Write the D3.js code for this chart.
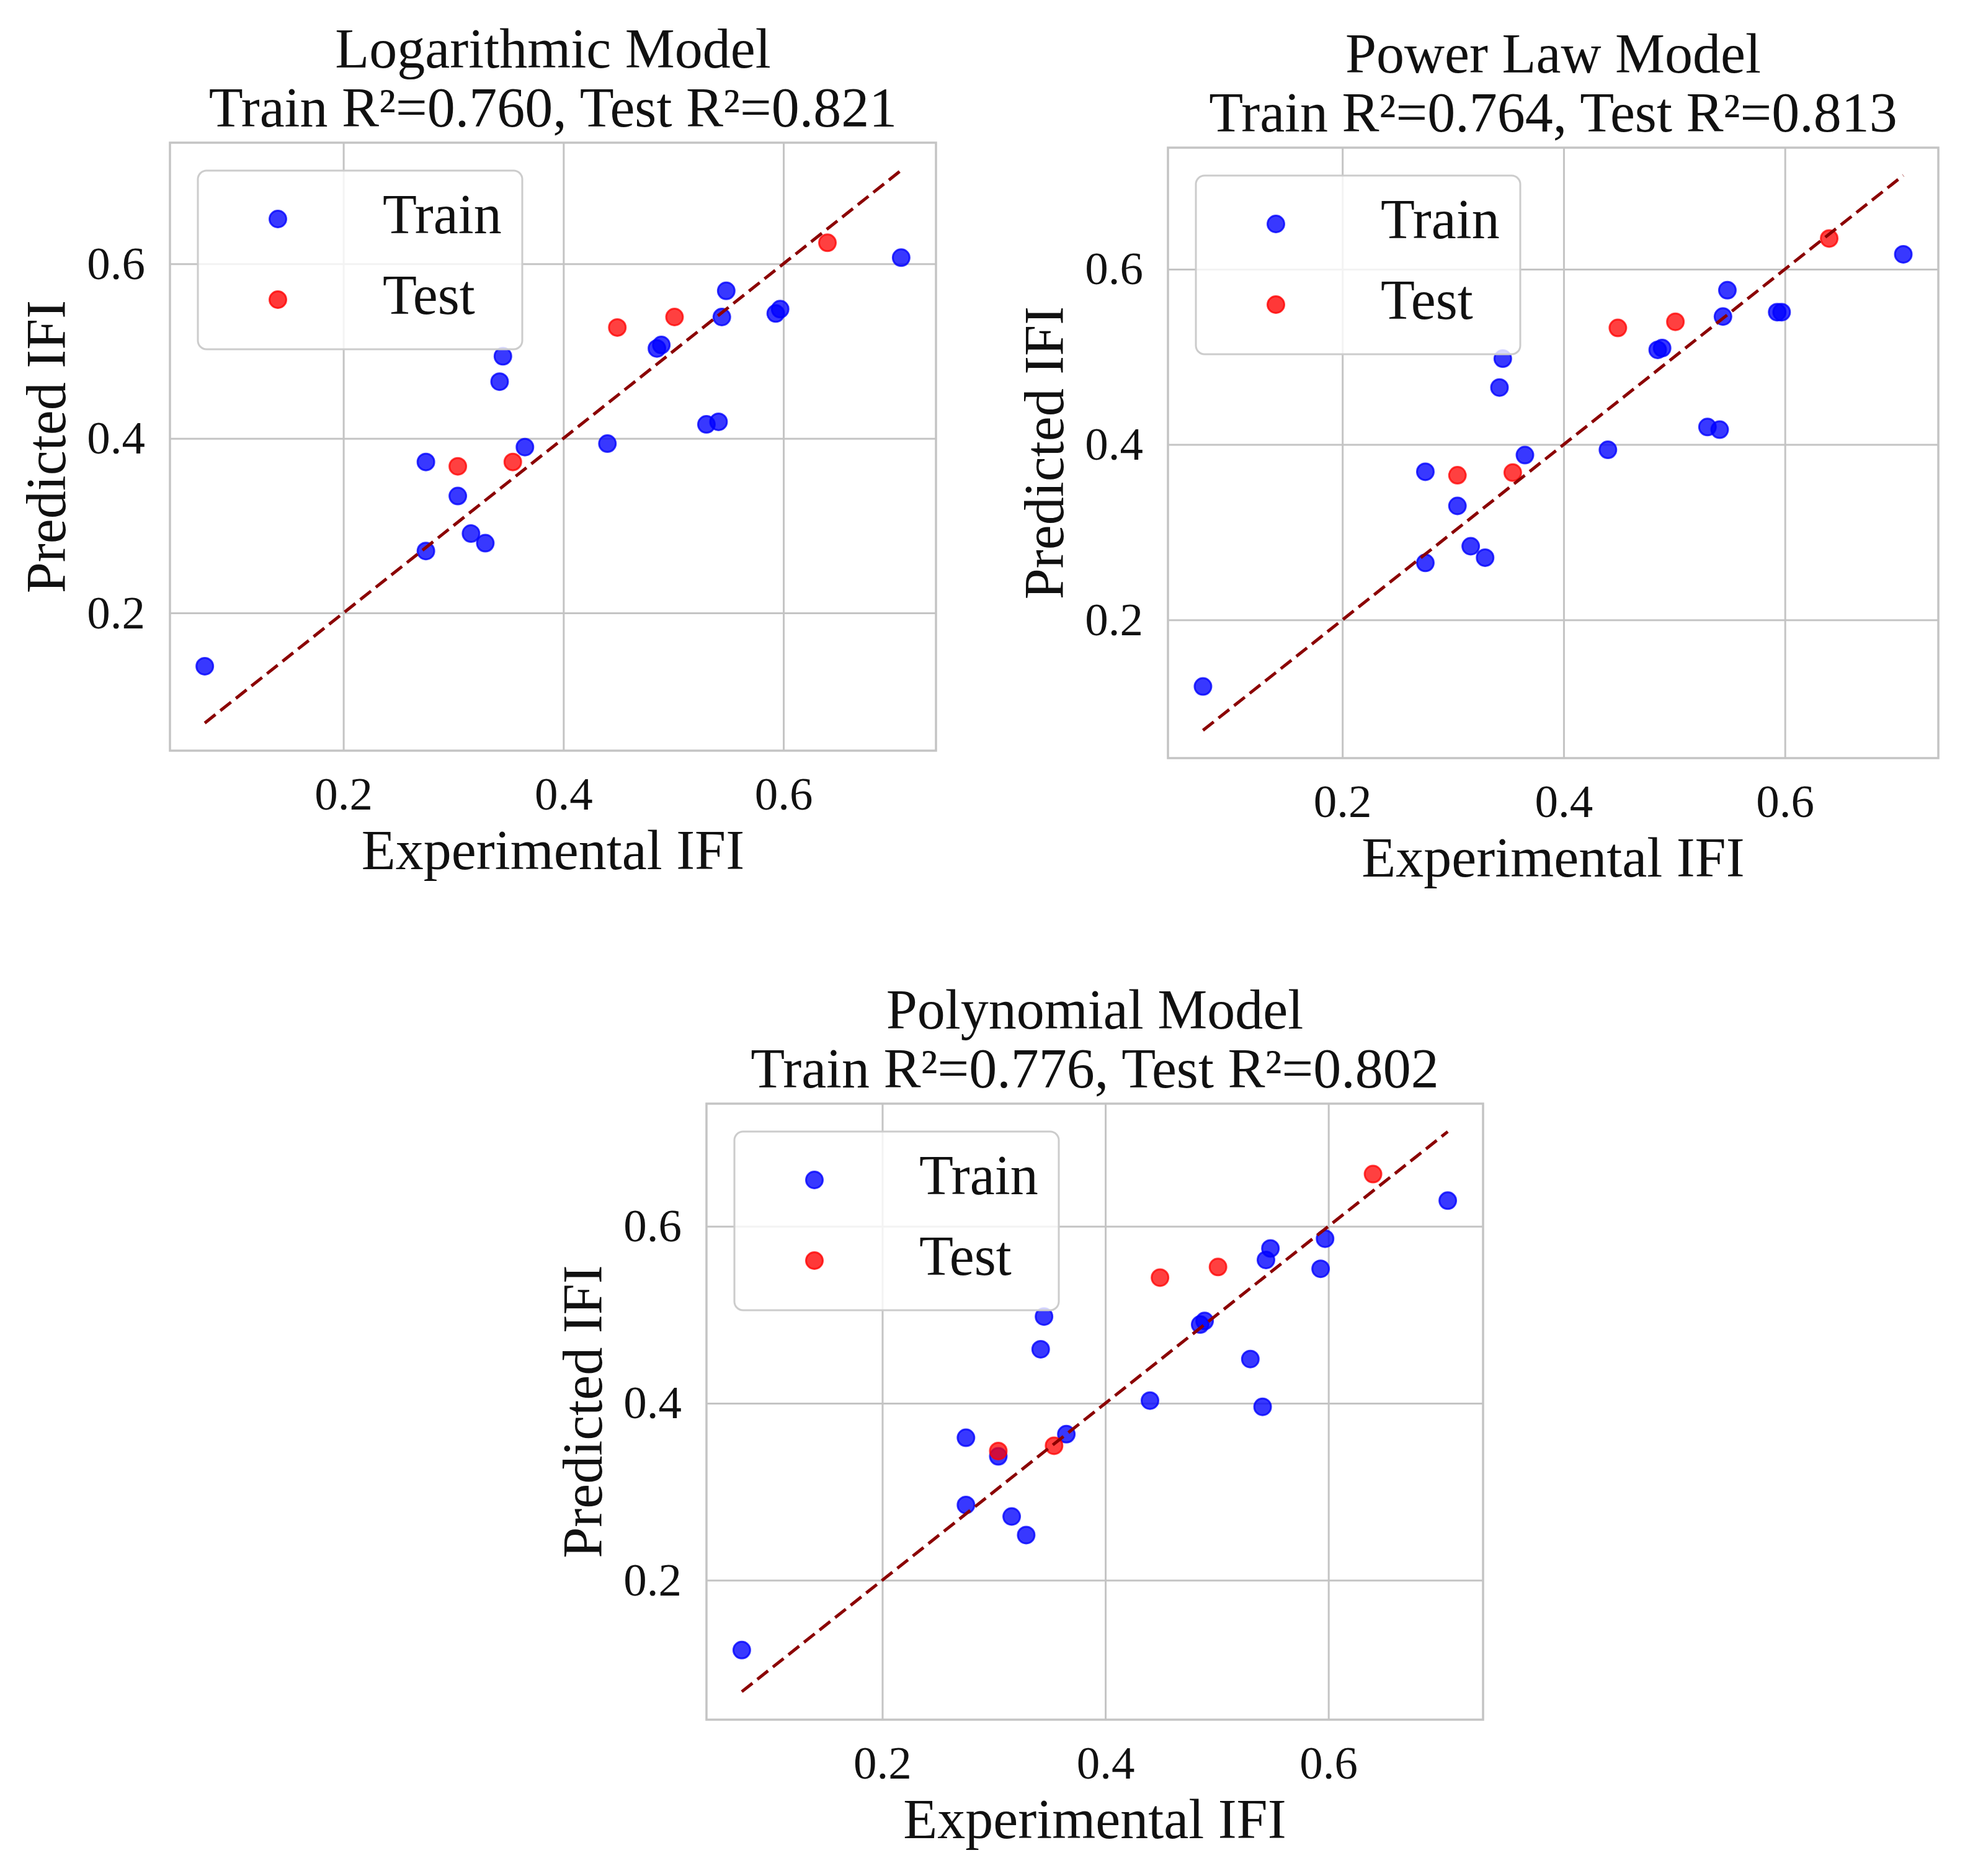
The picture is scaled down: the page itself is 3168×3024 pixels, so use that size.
<!DOCTYPE html>
<html>
<head>
<meta charset="utf-8">
<script src="https://cdn.jsdelivr.net/npm/d3@7"></script>
<style>
  body { margin: 0; background: #fff; }
  text { font-family: "Liberation Serif", "Times New Roman", serif; fill: #111; }
</style>
</head>
<body>
<div id="chart"></div>
<script>
// experimental values (same for every model)
var expTrain = [0.074, 0.275, 0.275, 0.304, 0.316, 0.329, 0.342, 0.345, 0.365, 0.440,
                0.485, 0.489, 0.530, 0.541, 0.544, 0.548, 0.593, 0.597, 0.707];
var expTest = [0.304, 0.354, 0.449, 0.501, 0.640];

// predicted values per model
var logTrain = [0.139, 0.373, 0.271, 0.334, 0.291, 0.280, 0.465, 0.494, 0.390, 0.394,
                0.503, 0.507, 0.416, 0.419, 0.539, 0.569, 0.543, 0.548, 0.607];
var logTest = [0.368, 0.373, 0.527, 0.539, 0.624];

var powTrain = [0.124, 0.369, 0.265, 0.330, 0.284, 0.271, 0.465, 0.498, 0.388, 0.394,
                0.508, 0.510, 0.420, 0.417, 0.546, 0.576, 0.551, 0.551, 0.617];
var powTest = [0.365, 0.368, 0.533, 0.540, 0.635];

var polyTrain = [0.121, 0.361, 0.285, 0.340, 0.272, 0.251, 0.461, 0.498, 0.365, 0.403,
                 0.489, 0.493, 0.450, 0.396, 0.562, 0.575, 0.552, 0.586, 0.629];
var polyTest = [0.346, 0.352, 0.542, 0.554, 0.659];

var modelNames = ["Logarithmic Model", "Power Law Model", "Polynomial Model"];
var trainR2 = ["0.760", "0.764", "0.776"];
var testR2 = ["0.821", "0.813", "0.802"];
var tickValues = [0.2, 0.4, 0.6];
var legendLabels = ["Train", "Test"];

var svg = d3.select("#chart")
  .append("svg")
  .attr("width", 3168)
  .attr("height", 3024);

var gridColor = "#c4c4c4";

function drawPanel(box, name, r2a, r2b, predTrain, predTest) {
  var w = box.w, h = box.h;
  var g = svg.append("g").attr("transform", "translate(" + box.x + "," + box.y + ")");

  // line goes from min to max of experimental values, limits padded 5%
  var ext = d3.extent(expTrain.concat(expTest));
  var pad = (ext[1] - ext[0]) * 0.05;
  var x = d3.scaleLinear().domain([ext[0] - pad, ext[1] + pad]).range([0, w]);
  var y = d3.scaleLinear().domain([ext[0] - pad, ext[1] + pad]).range([h, 0]);

  // x grid + labels
  var xa = g.append("g")
    .attr("transform", "translate(0," + h + ")")
    .call(d3.axisBottom(x).tickValues(tickValues).tickSize(-h).tickPadding(42).tickFormat(d3.format(".1f")));
  // y grid + labels
  var ya = g.append("g")
    .call(d3.axisLeft(y).tickValues(tickValues).tickSize(-w).tickPadding(40).tickFormat(d3.format(".1f")));
  [xa, ya].forEach(function (a) {
    a.select(".domain").remove();
    a.selectAll(".tick line").attr("stroke", gridColor).attr("stroke-width", 3);
    a.selectAll(".tick text").style("font-size", "75px").style("font-family", "Liberation Serif").attr("fill", "#111");
  });

  // points
  g.append("g").selectAll("circle")
    .data(expTrain.map(function (d, i) { return [d, predTrain[i]]; }))
    .join("circle")
    .attr("cx", function (d) { return x(d[0]); })
    .attr("cy", function (d) { return y(d[1]); })
    .attr("r", 13.5)
    .attr("fill", "blue").attr("fill-opacity", 0.78)
    .attr("stroke", "blue").attr("stroke-opacity", 0.78).attr("stroke-width", 3);

  g.append("g").selectAll("circle")
    .data(expTest.map(function (d, i) { return [d, predTest[i]]; }))
    .join("circle")
    .attr("cx", function (d) { return x(d[0]); })
    .attr("cy", function (d) { return y(d[1]); })
    .attr("r", 13.5)
    .attr("fill", "red").attr("fill-opacity", 0.75)
    .attr("stroke", "red").attr("stroke-opacity", 0.75).attr("stroke-width", 3);

  // 1:1 line
  g.append("line")
    .attr("x1", x(ext[0])).attr("y1", y(ext[0]))
    .attr("x2", x(ext[1])).attr("y2", y(ext[1]))
    .attr("stroke", "#8b0000")
    .attr("stroke-width", 5)
    .attr("stroke-dasharray", "22,10");

  // legend
  var lg = g.append("g").attr("transform", "translate(45,45)");
  lg.append("rect")
    .attr("width", 523).attr("height", 288)
    .attr("rx", 14)
    .attr("fill", "white").attr("fill-opacity", 0.8)
    .attr("stroke", "#cccccc").attr("stroke-width", 3);
  var colors = ["blue", "red"];
  legendLabels.forEach(function (lab, i) {
    lg.append("circle")
      .attr("cx", 129).attr("cy", 78 + i * 130)
      .attr("r", 13.5)
      .attr("fill", colors[i]).attr("fill-opacity", 0.78)
      .attr("stroke", colors[i]).attr("stroke-opacity", 0.78).attr("stroke-width", 3);
    lg.append("text")
      .attr("x", 298).attr("y", 101 + i * 130)
      .style("font-size", "90px")
      .text(lab);
  });

  // frame
  g.append("rect")
    .attr("width", w).attr("height", h)
    .attr("fill", "none")
    .attr("stroke", gridColor).attr("stroke-width", 3.5);

  // title
  g.append("text")
    .attr("x", w / 2).attr("y", -121)
    .attr("text-anchor", "middle")
    .style("font-size", "90px")
    .text(name);
  g.append("text")
    .attr("x", w / 2).attr("y", -26)
    .attr("text-anchor", "middle")
    .style("font-size", "90px")
    .text("Train R\u00b2=" + r2a + ", Test R\u00b2=" + r2b);

  // axis labels
  g.append("text")
    .attr("x", w / 2).attr("y", h + 191)
    .attr("text-anchor", "middle")
    .style("font-size", "90px")
    .text("Experimental IFI");
  g.append("text")
    .attr("transform", "translate(-169," + h / 2 + ") rotate(-90)")
    .attr("text-anchor", "middle")
    .style("font-size", "90px")
    .text("Predicted IFI");
}

var boxes = [
  { x: 274, y: 230, w: 1235, h: 980 },
  { x: 1883, y: 238, w: 1242, h: 984 },
  { x: 1139, y: 1779, w: 1252, h: 993 }
];
var preds = [[logTrain, logTest], [powTrain, powTest], [polyTrain, polyTest]];

boxes.forEach(function (b, i) {
  drawPanel(b, modelNames[i], trainR2[i], testR2[i], preds[i][0], preds[i][1]);
});
</script>
</body>
</html>
